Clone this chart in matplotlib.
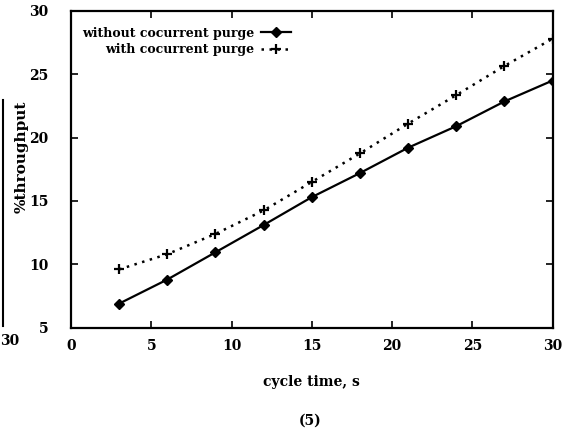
import matplotlib
matplotlib.use('Agg')
import matplotlib.pyplot as plt

# cycle time (s) vs % throughput
cycle_time = [3, 6, 9, 12, 15, 18, 21, 24, 27, 30]
without_purge = [6.9, 8.8, 10.95, 13.1, 15.3, 17.2, 19.2, 20.9, 22.85, 24.5]
with_purge = [9.6, 10.8, 12.4, 14.25, 16.5, 18.75, 21.1, 23.35, 25.65, 27.8]
xticks = [0, 5, 10, 15, 20, 25, 30]
yticks = [5, 10, 15, 20, 25, 30]

plt.rcParams['font.family'] = ['DejaVu Serif']
plt.rcParams['font.weight'] = 'bold'

fig = plt.figure(figsize=(5.75, 4.34), dpi=100)
ax = fig.add_axes([0.1235, 0.245, 0.8375, 0.73])

ax.plot(cycle_time, without_purge, color='black', lw=1.6, marker='D', ms=5.5,
        label='without cocurrent purge')
ax.plot(cycle_time, with_purge, color='black', lw=1.8, ls=(0, (1, 2.2)), marker='+',
        ms=7, mew=1.6, label='with cocurrent purge')

ax.set_xlim(0, 30)
ax.set_ylim(5, 30)
ax.set_xticks(xticks)
ax.set_yticks(yticks)
ax.tick_params(direction='in', length=5, width=1.2, labelsize=10, top=True, right=True)
ax.tick_params(axis='x', pad=8)
ax.tick_params(axis='y', pad=16)
for lab in ax.get_xticklabels() + ax.get_yticklabels():
    lab.set_fontweight('bold')
for s in ax.spines.values():
    s.set_linewidth(1.6)

ax.set_xlabel('cycle time, s', fontsize=10, fontweight='bold', labelpad=16)
ax.set_ylabel('%throughput', fontsize=11, fontweight='bold')
ax.yaxis.set_label_coords(-0.088, 0.54)

leg = ax.legend(loc='upper left', frameon=False, fontsize=9, markerfirst=False,
                handlelength=2.4, handletextpad=0.5, labelspacing=0.25,
                bbox_to_anchor=(0.0, 0.985))
for t in leg.get_texts():
    t.set_fontweight('bold')
    t.set_ha('right')
leg._legend_box.align = 'right'

fig.text(0.539, 0.015, '(5)', fontsize=10, fontweight='bold', ha='center', va='bottom')

# edge of the neighbouring panel
fig.add_artist(plt.Line2D([0.005, 0.005], [0.25, 0.77], color='black', lw=1.5))
fig.text(0.0, 0.215, '30', fontsize=10, fontweight='bold', ha='left', va='center')

fig.savefig('out.png', dpi=100)
